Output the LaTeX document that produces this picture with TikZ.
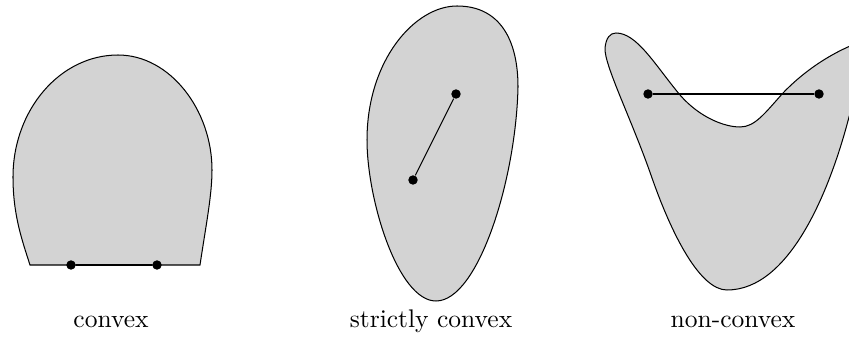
\documentclass[tikz,border=0pt]{standalone}
\definecolor{regiongray}{RGB}{211,211,211}
\begin{document}
\begin{tikzpicture}[x=0.392157pt,y=-0.392157pt,
  region/.style={draw=black,fill=regiongray,line width=0.4pt},
  dot/.style={circle,fill=black,inner sep=0pt,minimum size=3.7pt},
  seg/.style={draw=black,line width=0.4pt},
  lbl/.style={anchor=base,inner sep=0pt}]
\useasboundingbox (0,0) rectangle (849,338);
% convex
\path[region] (30,265) -- (200,265)
  .. controls (206,225) and (212,195) .. (212,170)
  .. controls (212,110) and (170,55) .. (118,55)
  .. controls (60,55) and (13,110) .. (13,177)
  .. controls (13,215) and (22,240) .. (30,265) -- cycle;
\node[dot] (c1) at (71,265) {};
\node[dot] (c2) at (157,265) {};
\draw[seg] (c1) -- (c2);
\node[lbl] (l1) at (111,327) {convex};
% strictly convex
\path[region] (457,6)
  .. controls (500,6) and (518,40) .. (518,87)
  .. controls (516,180) and (478,301) .. (436,301)
  .. controls (398,301) and (367,200) .. (367,140)
  .. controls (367,60) and (415,6) .. (457,6) -- cycle;
\node[dot] (s1) at (456,94) {};
\node[dot] (s2) at (413,180) {};
\draw[seg] (s1) -- (s2);
\node[lbl] (l2) at (431,327) {strictly convex};
% non-convex
\path[region] (616,33)
  .. controls (637,33) and (655,65) .. (680,95)
  .. controls (700,118) and (725,127) .. (740,127)
  .. controls (755,127) and (765,113) .. (783,93)
  .. controls (805,70) and (835,50) .. (866,40)
  .. controls (870,50) and (860,80) .. (849,117)
  .. controls (830,190) and (790,290) .. (727,290)
  .. controls (700,290) and (672,235) .. (652,178)
  .. controls (632,120) and (604,65) .. (605,48)
  .. controls (606,38) and (610,33) .. (616,33) -- cycle;
\node[dot] (n1) at (648,94) {};
\node[dot] (n2) at (819,94) {};
\draw[seg] (n1) -- (n2);
\node[lbl] (l3) at (733,327) {non-convex};
\end{tikzpicture}
\end{document}
